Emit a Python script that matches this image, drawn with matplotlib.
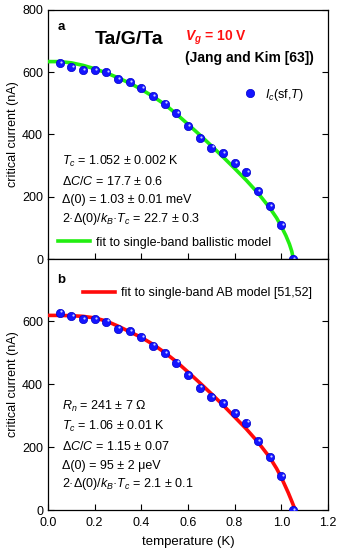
import matplotlib
matplotlib.use("Agg")
import matplotlib.pyplot as plt
from matplotlib.lines import Line2D
from matplotlib import transforms

plt.rcParams['font.family'] = ['Liberation Sans', 'DejaVu Sans']
plt.rcParams['mathtext.fontset'] = 'custom'
plt.rcParams['mathtext.rm'] = 'Liberation Sans'
plt.rcParams['mathtext.it'] = 'Liberation Sans:italic'
plt.rcParams['mathtext.bf'] = 'Liberation Sans:bold'
plt.rcParams['mathtext.bfit'] = 'Liberation Sans:bold:italic'

# ---- data ----
T_data = [0.05, 0.10, 0.15, 0.20, 0.25, 0.30, 0.35, 0.40, 0.45, 0.50, 0.55,
          0.60, 0.65, 0.70, 0.75, 0.80, 0.85, 0.90, 0.95, 1.00, 1.05]
Ic_data = [628, 616, 607, 607, 599, 577, 569, 549, 523, 499, 469,
           428, 389, 358, 339, 307, 278, 218, 169, 108, 0]

T_fit_a = [0.0, 0.05, 0.10, 0.15, 0.20, 0.25, 0.30, 0.35, 0.40, 0.45, 0.50, 0.55,
           0.60, 0.65, 0.70, 0.75, 0.80, 0.85, 0.90, 0.95, 0.98, 1.00, 1.02,
           1.035, 1.045, 1.052]
Ic_fit_a = [634, 634, 630, 622, 611, 598, 582, 565, 545, 522, 497, 466,
            433, 399, 364, 328, 291, 253, 212, 165, 132, 105, 75,
            48, 25, 0]

T_fit_b = [0.0, 0.05, 0.10, 0.15, 0.20, 0.25, 0.30, 0.35, 0.40, 0.45, 0.50, 0.55,
           0.60, 0.65, 0.70, 0.75, 0.80, 0.85, 0.90, 0.95, 0.98, 1.00, 1.03,
           1.045, 1.06]
Ic_fit_b = [619, 619, 618, 616, 611, 601, 585, 567, 549, 527, 501, 472,
            439, 405, 370, 334, 296, 258, 216, 168, 132, 104, 55,
            28, 0]

texts_a = [r"$T_c$ = 1.052 ± 0.002 K",
           r"Δ$C$/$C$ = 17.7 ± 0.6",
           r"Δ(0) = 1.03 ± 0.01 meV",
           r"2·Δ(0)/$k_B$·$T_c$ = 22.7 ± 0.3"]
texts_b = [r"$R_n$ = 241 ± 7 Ω",
           r"$T_c$ = 1.06 ± 0.01 K",
           r"Δ$C$/$C$ = 1.15 ± 0.07",
           r"Δ(0) = 95 ± 2 μeV",
           r"2·Δ(0)/$k_B$·$T_c$ = 2.1 ± 0.1"]

xticks = [0.0, 0.2, 0.4, 0.6, 0.8, 1.0, 1.2]
yticks_a = [0, 200, 400, 600, 800]
yticks_b = [0, 200, 400, 600]

fig = plt.figure(figsize=(3.43, 5.5), dpi=100)
axa = fig.add_axes([0.140, 0.529, 0.816, 0.453])
axb = fig.add_axes([0.140, 0.0727, 0.816, 0.4573])

blue = '#1414ff'
FS = 9

def draw_points(ax):
    ax.plot(T_data, Ic_data, 'o', ms=6.0, color=blue, mec='#0000cc', mew=0.5, zorder=4)
    off = transforms.offset_copy(ax.transData, fig=fig, x=0.9, y=0.9, units='points')
    ax.plot(T_data, Ic_data, 'o', ms=1.6, color='#c8d0ff', mew=0, transform=off, zorder=5)

for ax, yt in ((axa, yticks_a), (axb, yticks_b)):
    ax.set_xlim(0, 1.2)
    ax.set_ylim(0, 800)
    ax.set_xticks(xticks)
    ax.set_yticks(yt)
    ax.tick_params(direction='in', length=4, width=0.8, right=True, top=False,
                   labelsize=FS)
    for s in ax.spines.values():
        s.set_linewidth(0.9)
    ax.set_ylabel('critical current (nA)', fontsize=FS, labelpad=2)

axa.tick_params(labelbottom=False)
axb.tick_params(axis='x', pad=4.8)
axb.set_xticklabels([f"{v:.1f}" for v in xticks])
axb.set_xlabel('temperature (K)', fontsize=FS + 0.5, labelpad=5)

# panel a
axa.plot(T_fit_a, Ic_fit_a, '-', color='#22ee11', lw=2.6, zorder=3)
draw_points(axa)
axa.text(0.046, 0.932, 'a', transform=axa.transAxes, fontsize=9.5,
         fontweight='bold', ha='center', va='center')
axa.text(0.168, 0.863, 'Ta/G/Ta', transform=axa.transAxes, fontsize=14,
         fontweight='bold', ha='left', va='baseline')
axa.text(0.489, 0.8755, r"$\mathbfit{V}_\mathbfit{g}$ = 10 V", transform=axa.transAxes,
         fontsize=10, color='#ff1010', fontweight='bold', ha='left', va='baseline')
axa.text(0.489, 0.79, '(Jang and Kim [63])', transform=axa.transAxes, fontsize=10,
         fontweight='bold', ha='left', va='baseline')
ya = [0.390, 0.313, 0.237, 0.161]
for s, y in zip(texts_a, ya):
    axa.text(0.05, y, s, transform=axa.transAxes, fontsize=FS, ha='left', va='center')

h_pts = Line2D([], [], ls='none', marker='o', ms=6.0, color=blue, mec='#0000cc', mew=0.5)
leg1 = axa.legend([h_pts], [r"$I_c$(sf,$T$)"], loc='center left',
                  bbox_to_anchor=(0.701, 0.659), frameon=False, fontsize=FS,
                  handlelength=1.0, handletextpad=0.7, borderpad=0, borderaxespad=0,
                  numpoints=1)
axa.add_artist(leg1)
h_g = Line2D([], [], color='#22ee11', lw=2.6)
axa.legend([h_g], ['fit to single-band ballistic model'], loc='center left',
           bbox_to_anchor=(0.036, 0.065), frameon=False, fontsize=FS,
           handlelength=2.56, handletextpad=0.48, borderpad=0, borderaxespad=0)

# panel b
axb.plot(T_fit_b, Ic_fit_b, '-', color='#ff0a0a', lw=2.6, zorder=3)
draw_points(axb)
axb.text(0.046, 0.915, 'b', transform=axb.transAxes, fontsize=9.5,
         fontweight='bold', ha='center', va='center')
yb = [0.4135, 0.334, 0.252, 0.176, 0.1046]
for s, y in zip(texts_b, yb):
    axb.text(0.05, y, s, transform=axb.transAxes, fontsize=FS, ha='left', va='center')
h_r = Line2D([], [], color='#ff0a0a', lw=2.6)
axb.legend([h_r], ['fit to single-band AB model [51,52]'], loc='center left',
           bbox_to_anchor=(0.125, 0.863), frameon=False, fontsize=FS,
           handlelength=2.56, handletextpad=0.48, borderpad=0, borderaxespad=0)

fig.savefig('out.png', dpi=100)
